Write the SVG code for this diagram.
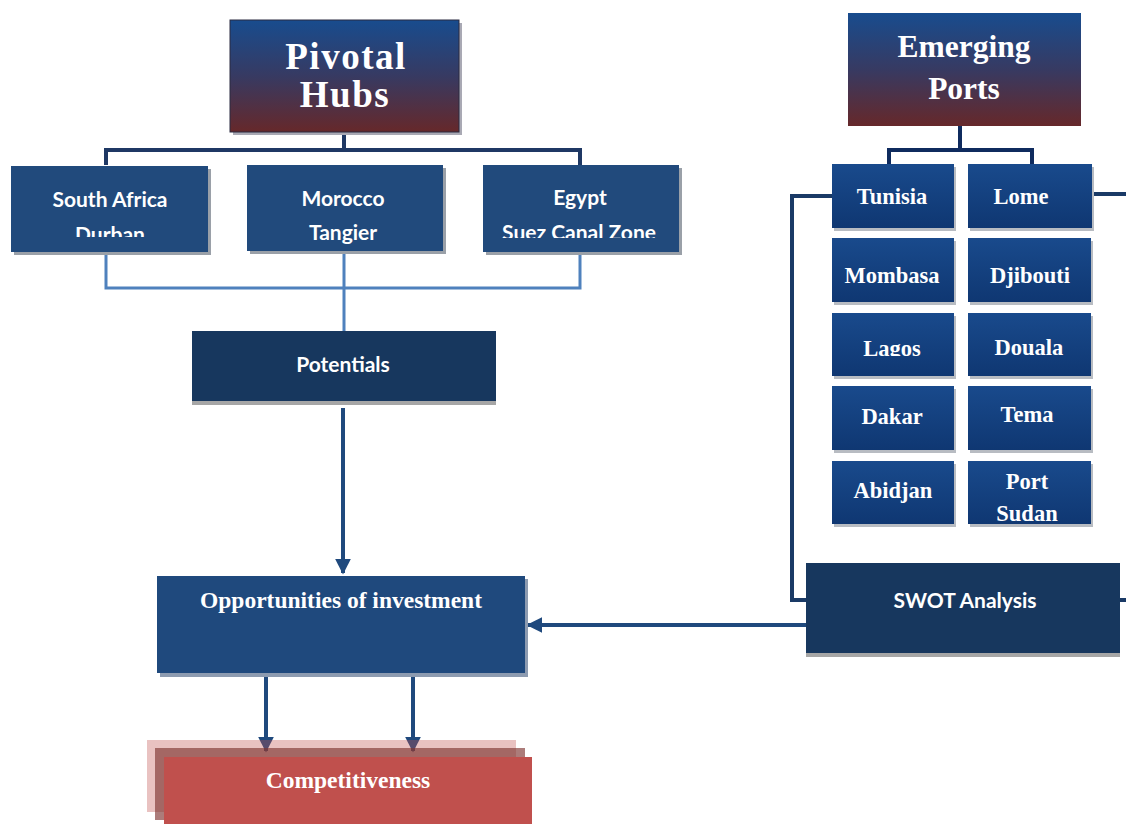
<svg xmlns="http://www.w3.org/2000/svg" width="1126" height="824" viewBox="0 0 1126 824">
<defs>
<linearGradient id="gHead" x1="0" y1="0" x2="0" y2="1">
<stop offset="0" stop-color="#184c8e"/>
<stop offset="0.5" stop-color="#373a62"/>
<stop offset="1" stop-color="#66282a"/>
</linearGradient>
<linearGradient id="gPort" x1="0" y1="0" x2="0" y2="1">
<stop offset="0" stop-color="#194a8c"/>
<stop offset="1" stop-color="#0f3772"/>
</linearGradient>
<marker id="arr" viewBox="0 0 10 10" refX="9" refY="5" markerWidth="4" markerHeight="4" orient="auto" markerUnits="strokeWidth">
<path d="M0,0 L10,5 L0,10 z" fill="#1f497d"/>
</marker>
<clipPath id="clipSA"><rect x="11" y="166" width="197" height="71"/></clipPath>
<clipPath id="clipEG"><rect x="483" y="165" width="196" height="73"/></clipPath>
<clipPath id="clipLG"><rect x="832" y="313" width="122" height="43"/></clipPath>
</defs>
<style>
.hub{fill:#214a7c}
.dark{fill:#17375e}
.shadow{fill:#9aa0a8}
.port{fill:url(#gPort)}
.pshadow{fill:#b8bcc2}
.ts{font-family:Lato,"Liberation Sans",sans-serif;font-weight:bold;fill:#ffffff;text-anchor:middle}
.tr{font-family:"Liberation Serif",serif;font-weight:bold;fill:#ffffff;text-anchor:middle}
.conn{fill:none;stroke-linejoin:miter;stroke-linecap:butt}
</style>
<rect width="1126" height="824" fill="#ffffff"/>

<g id="connectors">
<path class="conn" d="M344,131 V150 M106,165 V150 H580 V165" stroke="#1f3864" stroke-width="4"/>
<path class="conn" d="M106,252 V288 H580 V252 M344,251 V331" stroke="#4f81bd" stroke-width="3"/>
<path class="conn" d="M343,408 V573" stroke="#1f497d" stroke-width="4" marker-end="url(#arr)"/>
<path class="conn" d="M806,625 H528" stroke="#1f497d" stroke-width="4" marker-end="url(#arr)"/>
<path class="conn" d="M266,673 V751" stroke="#1f497d" stroke-width="4" marker-end="url(#arr)"/>
<path class="conn" d="M413,676 V751" stroke="#1f497d" stroke-width="4" marker-end="url(#arr)"/>
<path class="conn" d="M960,126 V150 M889,164 V150 H1032 V164" stroke="#0f2b5e" stroke-width="4"/>
<path class="conn" d="M832,196 H792 V600 H806" stroke="#1a3a66" stroke-width="4"/>
<path class="conn" d="M1092,194 H1126 M1120,600 H1126" stroke="#1a3a66" stroke-width="4"/>
</g>

<g id="pivotal-hubs">
<rect x="233" y="23" width="229" height="112" fill="#a9a9b4"/>
<rect x="230" y="20" width="229" height="112" fill="url(#gHead)" stroke="#2a2a40" stroke-width="1"/>
<text class="tr" x="346" y="69" font-size="37" letter-spacing="1.5">Pivotal</text>
<text class="tr" x="345" y="107" font-size="37" letter-spacing="1.5">Hubs</text>
</g>

<g id="emerging-ports">
<rect x="848" y="13" width="233" height="113" fill="url(#gHead)"/>
<text class="tr" x="964" y="57" font-size="31.5">Emerging</text>
<text class="tr" x="964" y="99" font-size="31.5">Ports</text>
</g>

<g id="south-africa">
<rect x="14" y="169" width="197" height="86" class="shadow"/>
<rect x="11" y="166" width="197" height="86" class="hub"/>
<g clip-path="url(#clipSA)">
<text class="ts" x="110" y="207" font-size="21">South Africa</text>
<text class="ts" x="110" y="242" font-size="21">Durban</text>
</g>
</g>

<g id="morocco">
<rect x="250" y="168" width="196" height="86" class="shadow"/>
<rect x="247" y="165" width="196" height="86" class="hub"/>
<text class="ts" x="343" y="206" font-size="21">Morocco</text>
<text class="ts" x="343" y="240" font-size="21">Tangier</text>
</g>

<g id="egypt">
<rect x="486" y="168" width="196" height="87" class="shadow"/>
<rect x="483" y="165" width="196" height="87" class="hub"/>
<g clip-path="url(#clipEG)">
<text class="ts" x="580" y="205" font-size="21">Egypt</text>
<text class="ts" x="579" y="240" font-size="21">Suez Canal Zone</text>
</g>
</g>

<g id="potentials">
<rect x="192" y="335" width="304" height="70" fill="#a6a6a6"/>
<rect x="192" y="331" width="304" height="70" class="dark"/>
<text class="ts" x="343" y="372" font-size="21">Potentials</text>
</g>

<g id="opportunities">
<rect x="160" y="579" width="368" height="98" fill="#8d9bb0"/>
<rect x="157" y="576" width="368" height="97" fill="#1f497d"/>
<text class="tr" x="341" y="608" font-size="23.5">Opportunities of investment</text>
</g>

<g id="competitiveness">
<rect x="147" y="740" width="369" height="72" fill="#c0504d" fill-opacity="0.35"/>
<rect x="155" y="748" width="370" height="72" fill="#7f3533" fill-opacity="0.65"/>
<rect x="164" y="757" width="368" height="67" fill="#c0504d"/>
<text class="tr" x="348" y="788" font-size="23.5">Competitiveness</text>
</g>

<g id="tunisia">
<rect x="834" y="167" width="122" height="64" class="pshadow"/>
<rect x="832" y="164" width="122" height="64" class="port"/>
<text class="tr" x="892" y="204" font-size="22.5">Tunisia</text>
</g>
<g id="lome">
<rect x="970" y="167" width="124" height="64" class="pshadow"/>
<rect x="968" y="164" width="124" height="64" class="port"/>
<text class="tr" x="1021" y="204" font-size="22.5">Lome</text>
</g>
<g id="mombasa">
<rect x="834" y="241" width="122" height="64" class="pshadow"/>
<rect x="832" y="238" width="122" height="64" class="port"/>
<text class="tr" x="892" y="283" font-size="22.5">Mombasa</text>
</g>
<g id="djibouti">
<rect x="970" y="241" width="123" height="64" class="pshadow"/>
<rect x="968" y="238" width="123" height="64" class="port"/>
<text class="tr" x="1030" y="283" font-size="22.5">Djibouti</text>
</g>
<g id="lagos">
<rect x="834" y="316" width="122" height="63" class="pshadow"/>
<rect x="832" y="313" width="122" height="63" class="port"/>
<g clip-path="url(#clipLG)">
<text class="tr" x="892" y="356" font-size="22.5">Lagos</text>
</g>
</g>
<g id="douala">
<rect x="970" y="316" width="123" height="63" class="pshadow"/>
<rect x="968" y="313" width="123" height="63" class="port"/>
<text class="tr" x="1029" y="355" font-size="22.5">Douala</text>
</g>
<g id="dakar">
<rect x="834" y="389" width="122" height="64" class="pshadow"/>
<rect x="832" y="386" width="122" height="64" class="port"/>
<text class="tr" x="892" y="424" font-size="22.5">Dakar</text>
</g>
<g id="tema">
<rect x="970" y="389" width="123" height="64" class="pshadow"/>
<rect x="968" y="386" width="123" height="64" class="port"/>
<text class="tr" x="1027" y="422" font-size="22.5">Tema</text>
</g>
<g id="abidjan">
<rect x="834" y="464" width="122" height="63" class="pshadow"/>
<rect x="832" y="461" width="122" height="63" class="port"/>
<text class="tr" x="893" y="498" font-size="22.5">Abidjan</text>
</g>
<g id="port-sudan">
<rect x="970" y="464" width="123" height="63" class="pshadow"/>
<rect x="968" y="461" width="123" height="63" class="port"/>
<text class="tr" x="1027" y="489" font-size="22.5">Port</text>
<text class="tr" x="1027" y="521" font-size="22.5">Sudan</text>
</g>

<g id="swot-analysis">
<rect x="806" y="567" width="314" height="90" fill="#a6a6a6"/>
<rect x="806" y="563" width="314" height="90" class="dark"/>
<text class="ts" x="965" y="608" font-size="21">SWOT Analysis</text>
</g>
</svg>
